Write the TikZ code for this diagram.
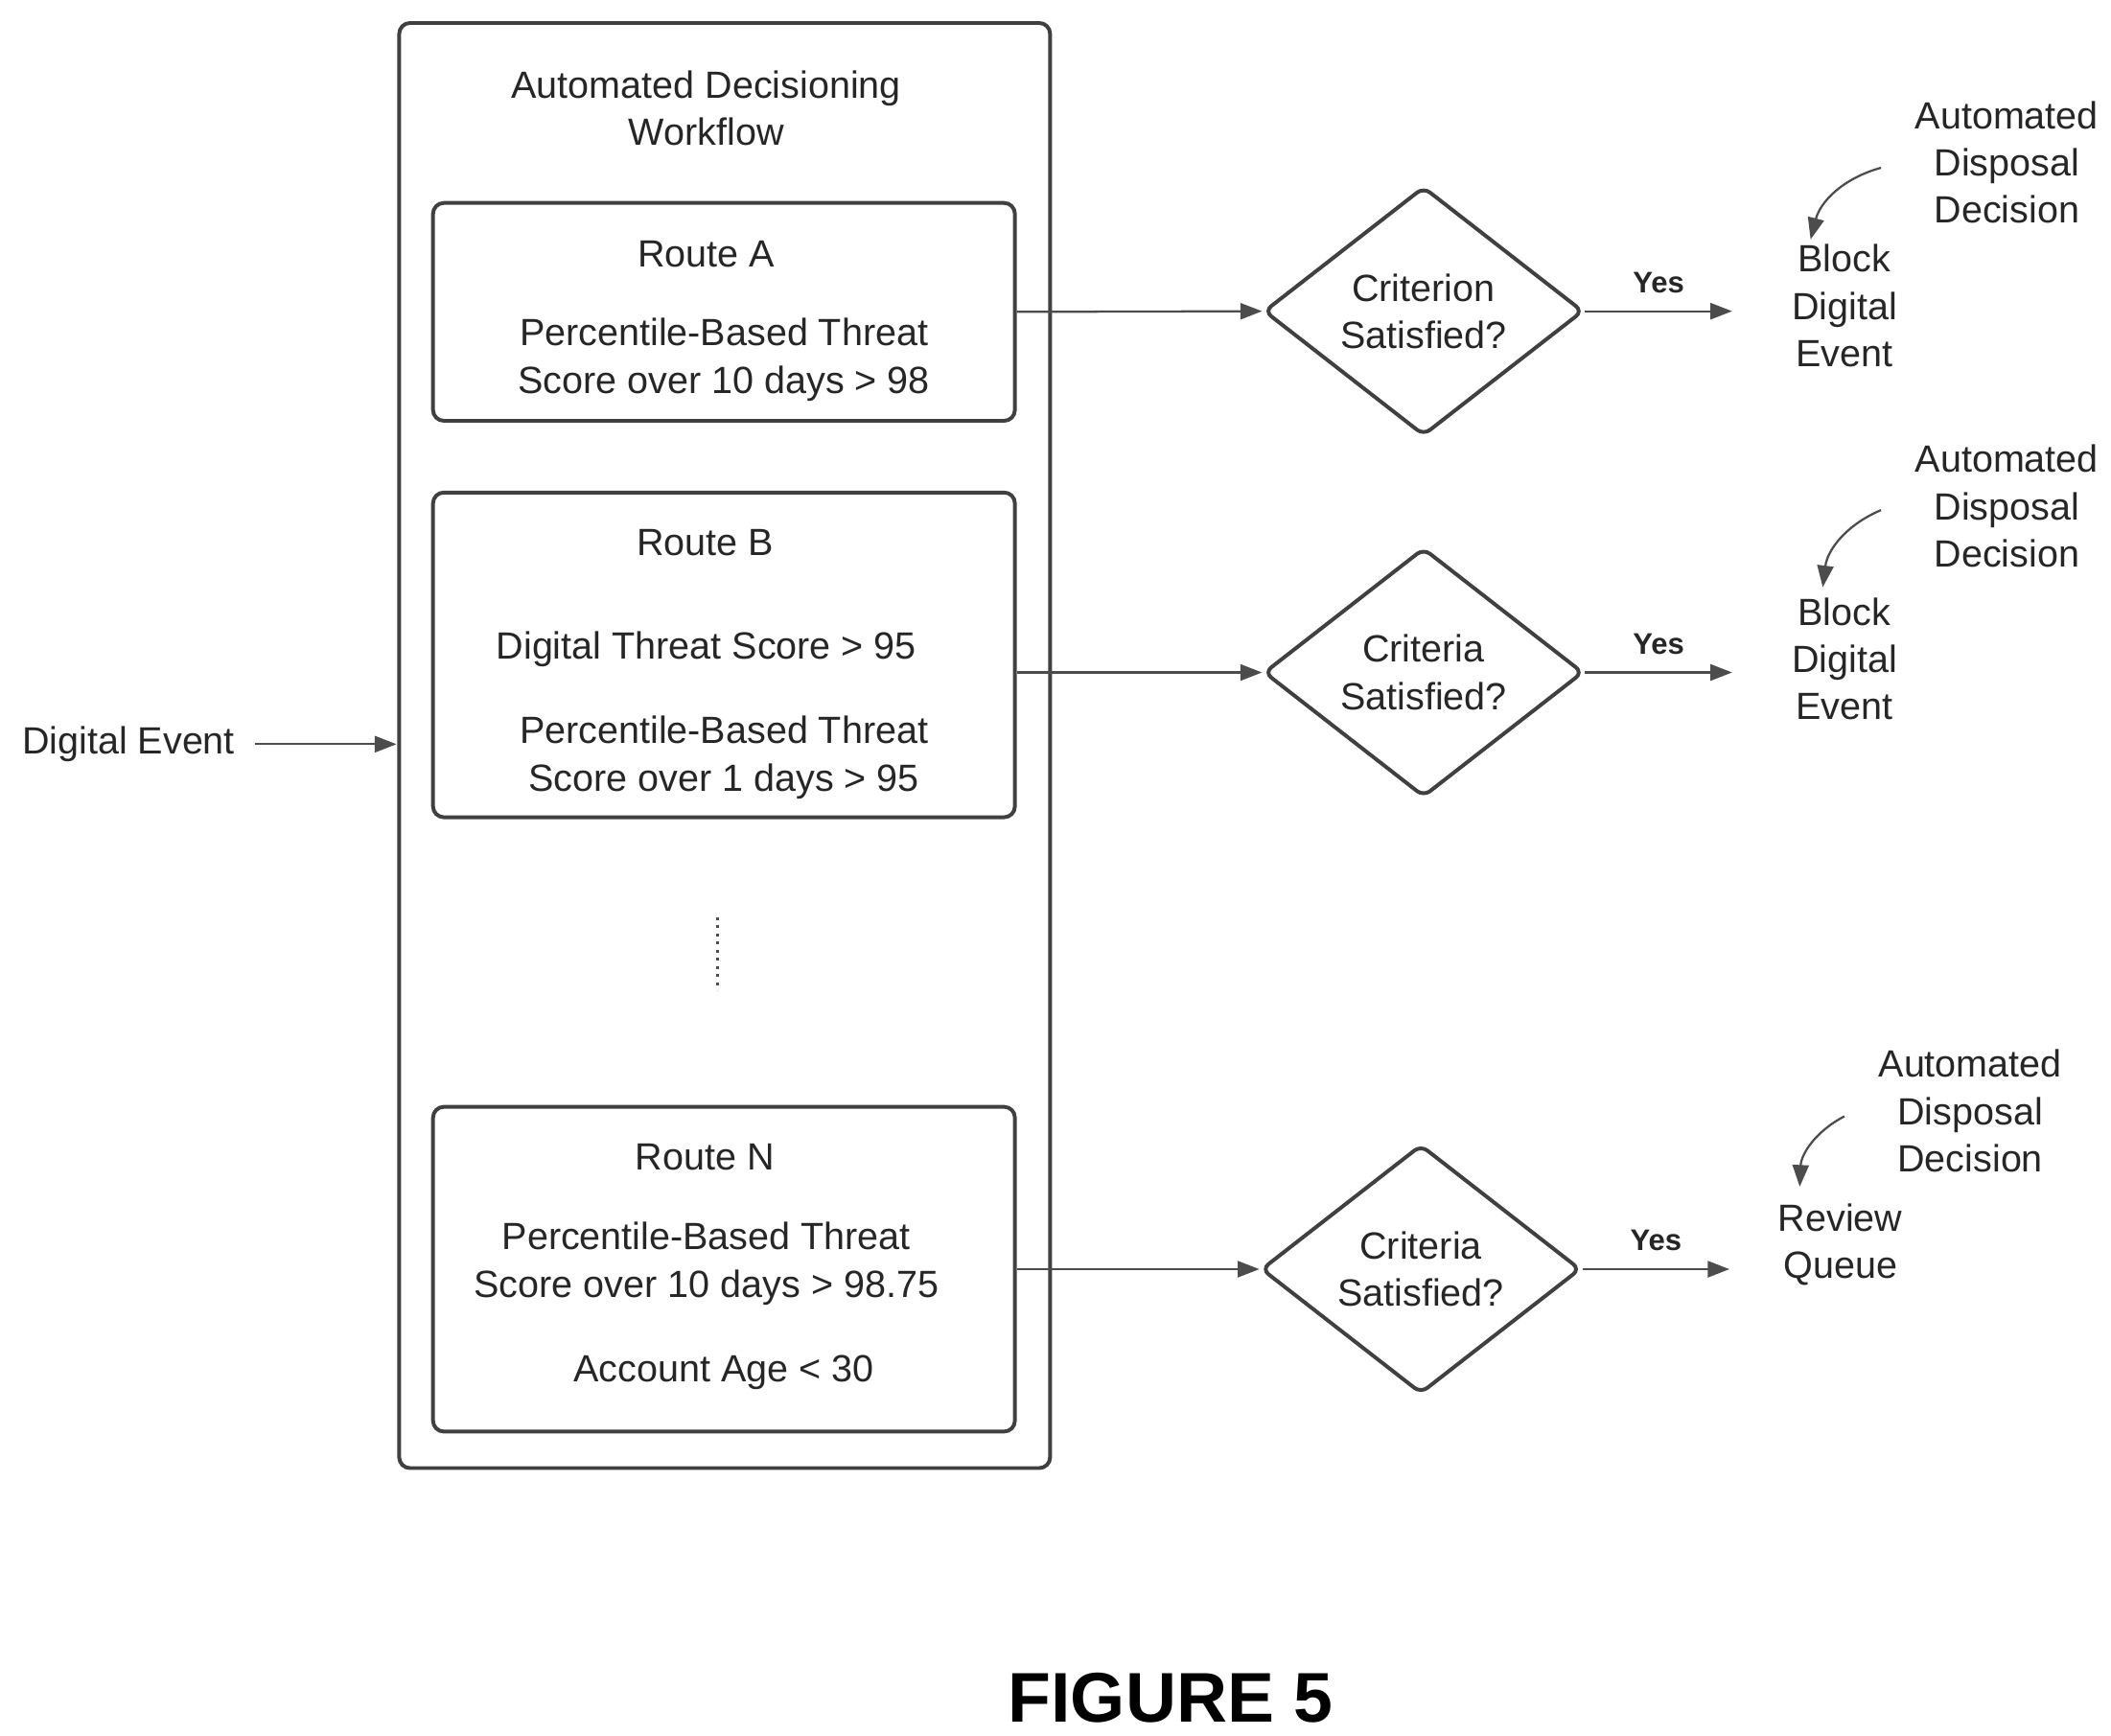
\documentclass[tikz,border=0pt]{standalone}
\usepackage{fontspec}
\setmainfont{Liberation Sans}
\usetikzlibrary{positioning,shapes.geometric,arrows.meta}

\tikzset{
  box/.style={draw=black!75, line width=1.4pt, rounded corners=4pt, inner sep=0pt},
  dec/.style={diamond, draw=black!75, line width=1.4pt, rounded corners=3pt, inner sep=0pt,
    minimum width=118pt, minimum height=92pt, align=center},
  txt/.style={align=center, font=\fontsize{14}{17.5}\selectfont, text=black!85},
  arr/.style={draw=black!70, line width=0.8pt, -{Triangle[length=8pt,width=6pt]}},
  yes/.style={font=\bfseries\fontsize{11}{13}\selectfont, text=black!85}
}

\begin{document}
\begin{tikzpicture}[x=0.5pt,y=-0.5pt]
\useasboundingbox (0,0) rectangle (1560,1283);

% workflow frame and routes
\node[box, minimum width=240.5pt, minimum height=534pt] (flow) at (535.5,551) {};
\node[txt] (title) at (522,80) {Automated Decisioning\\Workflow};

\node[box, minimum width=215pt, minimum height=80.5pt] (routeA) at (535,230.5) {};
\node[txt] (nameA) at (522,188) {Route A};
\node[txt] (condA) at (535,266) {Percentile-Based Threat\\Score over 10 days > 98};

\node[box, minimum width=215pt, minimum height=120pt] (routeB) at (535,484) {};
\node[txt] (nameB) at (521,401) {Route B};
\node[txt] (condB1) at (522,480) {Digital Threat Score > 95};
\node[txt] (condB2) at (535,560) {Percentile-Based Threat\\Score over 1 days > 95};

\draw[black!70, line width=1pt, dotted] (530,678) -- (530,732);

\node[box, minimum width=215pt, minimum height=120pt] (routeN) at (535,938) {};
\node[txt] (nameN) at (521,855) {Route N};
\node[txt] (condN1) at (522,934) {Percentile-Based Threat\\Score over 10 days > 98.75};
\node[txt] (condN2) at (535,1014) {Account Age < 30};

% input
\node[txt] (event) at (95,550) {Digital Event};
\coordinate (inB) at (293,550);
\draw[arr] (event.east) ++(4pt,0) -- (inB);

% decisions
\node[dec, txt] (decA) at (1052,230) {Criterion\\Satisfied?};
\node[dec, txt] (decB) at (1052,497) {Criteria\\Satisfied?};
\node[dec, txt] (decN) at (1050,938) {Criteria\\Satisfied?};

\draw[arr] (routeA.east) -- (decA.west);
\draw[arr] (routeB.east |- decB) -- (decB.west);
\draw[arr] (routeN.east) -- (decN.west);

% outcomes
\node[txt] (outA) at (1363,226) {Block\\Digital\\Event};
\node[txt] (outB) at (1363,487) {Block\\Digital\\Event};
\node[txt] (outN) at (1360,920) {Review\\Queue};

\coordinate (yA) at (1280,230);
\coordinate (yB) at (1280,497);
\coordinate (yN) at (1278,938);
\draw[arr] (decA.east) -- node[yes, above=3pt] {Yes} (yA);
\draw[arr] (decB.east) -- node[yes, above=3pt] {Yes} (yB);
\draw[arr] (decN.east) -- node[yes, above=3pt] {Yes} (yN);

\node[txt] (autoA) at (1483,120) {Automated\\Disposal\\Decision};
\node[txt] (autoB) at (1483,374) {Automated\\Disposal\\Decision};
\node[txt] (autoN) at (1456,821) {Automated\\Disposal\\Decision};

\draw[arr] (1390,124) to[bend right=30] (1338,177);
\draw[arr] (1390,377) to[bend right=30] (1347,434);
\draw[arr] (1363,825) to[bend right=30] (1330,877);

\node[font=\bfseries\fontsize{26}{30}\selectfont] (fig) at (865,1255) {FIGURE 5};
\end{tikzpicture}
\end{document}
